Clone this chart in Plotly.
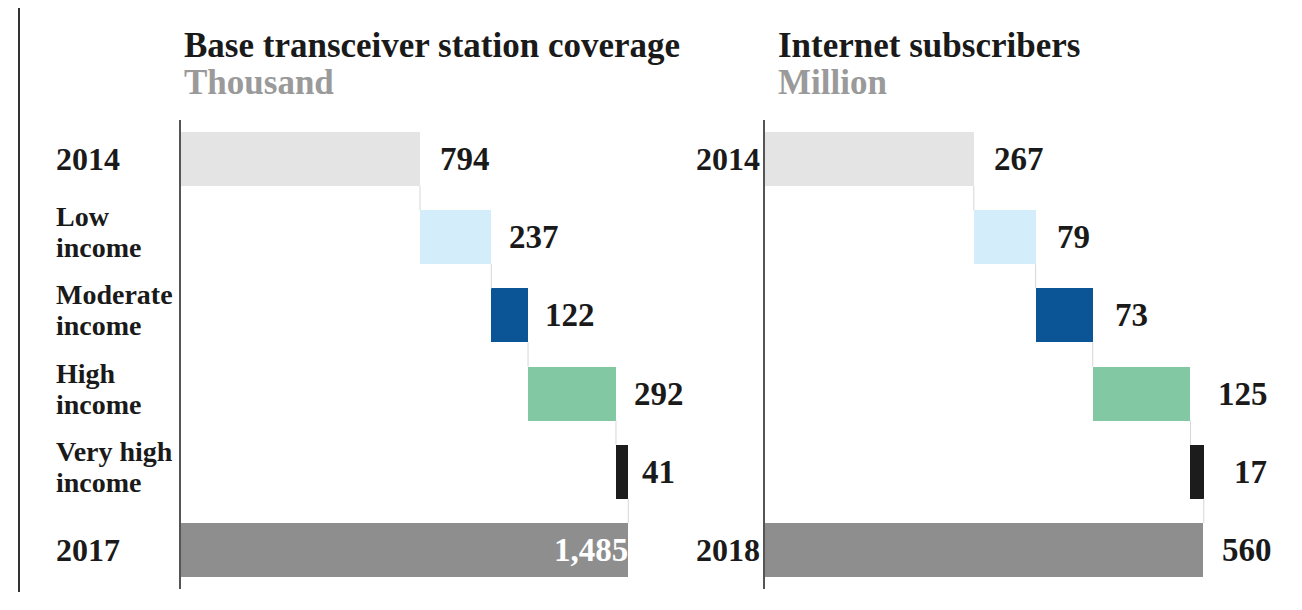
import plotly.graph_objects as go

# ---------------- data ----------------
categories = ["2014", "Low income", "Moderate income", "High income", "Very high income"]
bts_start_label = "2014"
bts_end_label = "2017"
bts_start = 794
bts_increments = [237, 122, 292, 41]
bts_total = 1485

inet_start_label = "2014"
inet_end_label = "2018"
inet_start = 267
inet_increments = [79, 73, 125, 17]
inet_total = 560

bar_colors = ["#e4e4e4", "#d3eefa", "#0b5495", "#82c9a3", "#1c1c1c", "#8e8e8e"]

# label offsets (style only)
bts_label_shift = [18, 16, 15, 16, 12, 2]
inet_label_shift = [18, 19, 20, 26, 28, 17]

# page offset (browser body margin)
OFF = 8
W, H = 1302 - OFF, 610 - OFF
FONT = "Liberation Serif"


def px(x):
    return (x - OFF) / W


def py(y):
    return 1 - (y - OFF) / H


fig = go.Figure()


def add_panel(start, incs, total, xaxis, yaxis):
    lengths = [start] + incs + [total]
    bases = [0]
    cum = start
    for v in incs:
        bases.append(cum)
        cum += v
    bases.append(0)
    ys = list(range(len(lengths)))
    fig.add_trace(go.Bar(
        orientation="h", y=ys, x=lengths, base=bases, width=0.69,
        marker=dict(color=bar_colors, line=dict(width=0)),
        xaxis=xaxis, yaxis=yaxis, hoverinfo="skip", showlegend=False))
    ends = [b + l for b, l in zip(bases, lengths)]
    for i in range(len(lengths) - 1):
        fig.add_trace(go.Scatter(
            x=[ends[i], ends[i]], y=[i + 0.345, i + 0.655], mode="lines",
            line=dict(color="#d6d6d6", width=1), xaxis=xaxis, yaxis=yaxis,
            hoverinfo="skip", showlegend=False))
    return lengths, bases, ends


bts_len, bts_base, bts_ends = add_panel(bts_start, bts_increments, bts_total, "x", "y")
inet_len, inet_base, inet_ends = add_panel(inet_start, inet_increments, inet_total, "x2", "y2")

ydom = [py(589), py(120)]
left_x0, left_x1 = 181, 700
right_x0, right_x1 = 765, 1300
left_scale = 447 / 1485.0
right_scale = 438 / 560.0

axis_common = dict(showgrid=False, zeroline=False, showticklabels=False, ticks="", fixedrange=True)
fig.update_layout(
    width=W, height=H,
    margin=dict(l=0, r=0, t=0, b=0),
    paper_bgcolor="white", plot_bgcolor="white",
    bargap=0,
    xaxis=dict(domain=[px(left_x0), px(left_x1)], range=[0, (left_x1 - left_x0) / left_scale], **axis_common),
    yaxis=dict(domain=ydom, range=[5.5, -0.5], showline=True, linecolor="#555555", linewidth=2, **axis_common),
    xaxis2=dict(domain=[px(right_x0), px(right_x1)], range=[0, (right_x1 - right_x0) / right_scale], anchor="y2", **axis_common),
    yaxis2=dict(domain=ydom, range=[5.5, -0.5], anchor="x2", showline=True, linecolor="#555555", linewidth=2, **axis_common),
)

ann = []
# titles
for x0, title, sub in [(182, "Base transceiver station coverage", "Thousand"),
                       (776, "Internet subscribers", "Million")]:
    ann.append(dict(xref="paper", yref="paper", x=px(x0), y=py(45), xanchor="left", yanchor="middle",
                    text="<b>%s</b>" % title, showarrow=False,
                    font=dict(family=FONT, size=35, color="#1a1a1a")))
    ann.append(dict(xref="paper", yref="paper", x=px(x0), y=py(82), xanchor="left", yanchor="middle",
                    text="<b>%s</b>" % sub, showarrow=False,
                    font=dict(family=FONT, size=35, color="#9a9a9a")))

# left category labels
year_font = dict(family=FONT, size=32, color="#1a1a1a")
label_font = dict(family=FONT, size=28, color="#1a1a1a")
left_labels = [bts_start_label] + categories[1:] + [bts_end_label]
for i, lab in enumerate(left_labels):
    parts = lab.split(" ")
    if len(parts) == 1:
        ann.append(dict(xref="paper", yref="y", x=px(54), y=i, xanchor="left", yanchor="middle",
                        text="<b>%s</b>" % lab, showarrow=False, font=year_font))
        continue
    if lab.startswith("Very high"):
        lines = ["Very high", "income"]
    else:
        lines = [parts[0], " ".join(parts[1:])]
    n = len(lines)
    for j, line in enumerate(lines):
        ann.append(dict(xref="paper", yref="y", x=px(54), y=i, xanchor="left", yanchor="middle",
                        yshift=(n - 1) * 15.5 - j * 31 + 5, text="<b>%s</b>" % line, showarrow=False,
                        font=label_font))

# right year labels
for i, lab in [(0, inet_start_label), (5, inet_end_label)]:
    ann.append(dict(xref="paper", yref="y2", x=px(762), y=i, xanchor="right", yanchor="middle",
                    text="<b>%s</b>" % lab, showarrow=False, font=year_font))

# value labels
val_font = dict(family=FONT, size=33, color="#1a1a1a")
for i, (e, l) in enumerate(zip(bts_ends, bts_len)):
    txt = "<b>{:,}</b>".format(l)
    if i == 5:
        ann.append(dict(xref="x", yref="y", x=e, y=i, xanchor="right", yanchor="middle",
                        xshift=bts_label_shift[i], text=txt, showarrow=False,
                        font=dict(family=FONT, size=33, color="white")))
    else:
        ann.append(dict(xref="x", yref="y", x=e, y=i, xanchor="left", yanchor="middle",
                        xshift=bts_label_shift[i], text=txt, showarrow=False, font=val_font))
for i, (e, l) in enumerate(zip(inet_ends, inet_len)):
    txt = "<b>{:,}</b>".format(l)
    ann.append(dict(xref="x2", yref="y2", x=e, y=i, xanchor="left", yanchor="middle",
                    xshift=inet_label_shift[i], text=txt, showarrow=False, font=val_font))

fig.update_layout(annotations=ann)

# page border line on far left
fig.add_shape(type="line", xref="paper", yref="paper", x0=px(19), x1=px(19), y0=1, y1=py(592),
              line=dict(color="#333333", width=2))

fig.write_html("out.html")
